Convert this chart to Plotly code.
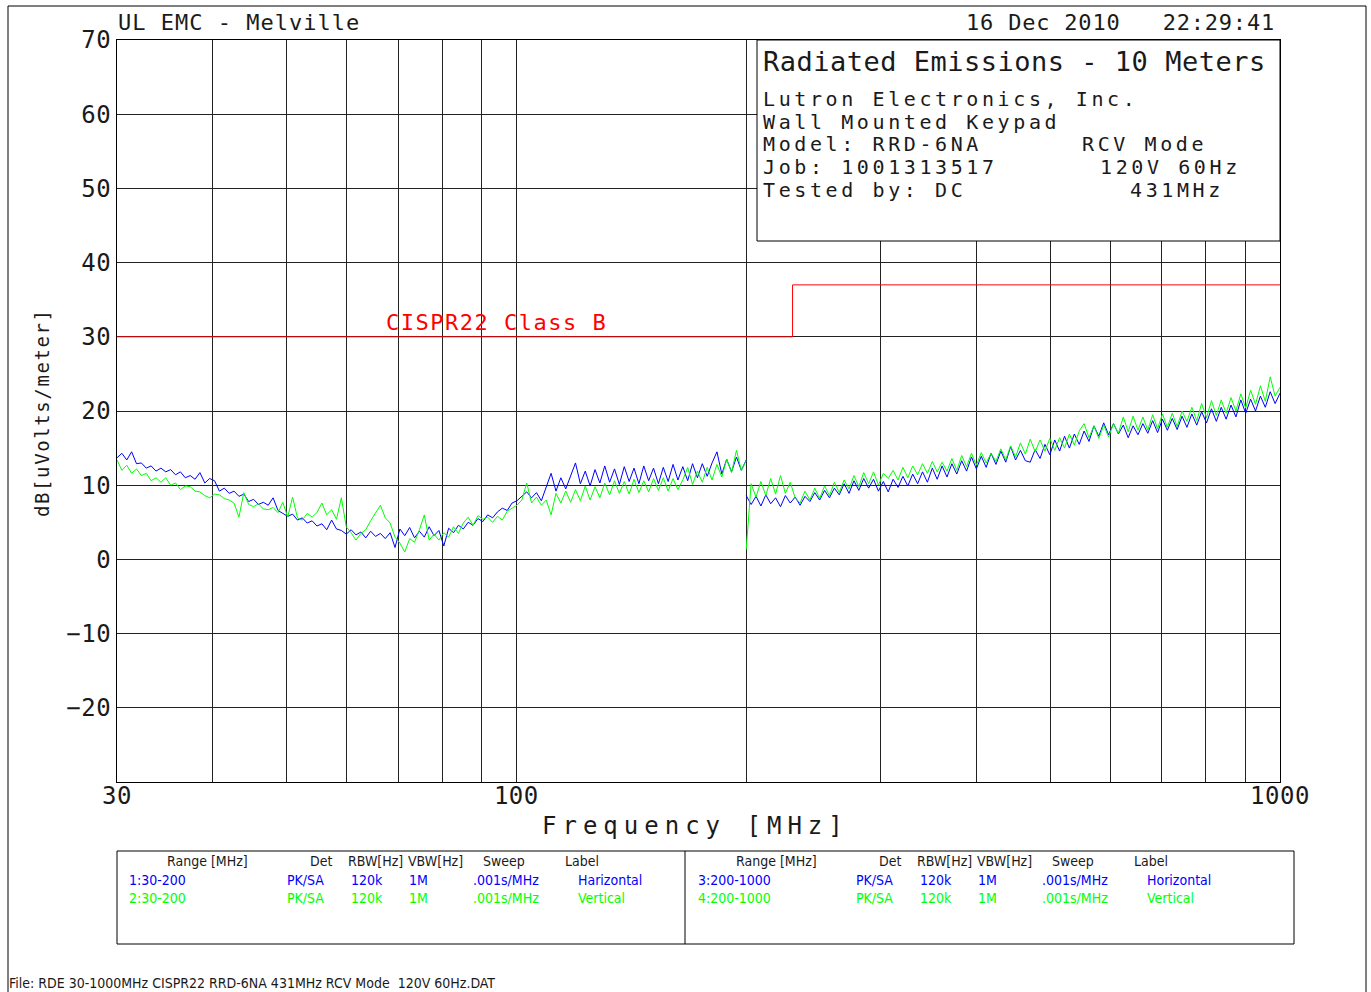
import numpy as np
import plotly.graph_objects as go

# ---------------- data ----------------
seg1_start, seg1_stop = 30, 200      # MHz, sweeps 1 & 2
seg2_start, seg2_stop = 200, 1000    # MHz, sweeps 3 & 4

horiz_30_200 = [
    13.7, 14.3, 13.4, 14.5, 12.9, 13.0, 12.3, 12.6, 11.9, 12.3,
    11.8, 12.1, 11.4, 11.8, 11.0, 11.3, 10.8, 11.7, 10.3, 10.9,
    10.6, 9.2, 9.6, 8.9, 9.2, 8.5, 8.8, 7.8, 8.1, 7.4,
    7.7, 7.3, 8.3, 6.6, 6.2, 5.8, 6.1, 5.3, 5.6, 4.9,
    5.2, 4.5, 4.8, 4.0, 5.3, 4.1, 3.9, 3.4, 4.0, 3.3,
    3.7, 2.9, 3.8, 3.1, 3.5, 2.8, 3.6, 1.6, 4.1, 3.2,
    4.3, 2.9, 3.8, 3.0, 4.4, 3.2, 3.9, 1.8, 4.2, 3.6,
    4.6, 4.1, 5.0, 4.6, 5.5, 5.1, 6.0, 5.6, 6.4, 6.9,
    6.6, 7.6, 7.9, 8.5, 9.1, 8.3, 9.0, 7.9,
    9.8, 11.6, 9.2, 11.0, 9.5, 11.2, 13.0, 10.2, 11.9, 9.9, 12.1, 10.3,
    12.6, 10.4, 12.2, 10.1, 12.5, 10.5, 12.3, 10.2, 12.6, 10.6,
    12.3, 10.2, 12.4, 10.5, 12.8, 10.7, 12.5, 10.6, 12.9, 11.0,
    12.9, 11.2, 13.0, 14.5, 11.5, 13.5, 11.8, 13.8, 12.0, 13.4,
]
vert_30_200 = [
    13.4, 12.0, 12.7, 11.6, 12.2, 11.3, 11.6, 10.6, 11.0, 10.4,
    11.0, 10.0, 10.3, 9.4, 9.9, 9.8, 9.2, 9.1, 8.6, 8.3,
    8.8, 8.7, 8.2, 8.0, 7.6, 5.7, 9.0, 7.4, 7.1, 7.5,
    6.8, 6.7, 7.0, 6.3, 7.7, 5.7, 8.4, 5.6, 5.3, 6.2,
    5.7, 6.3, 7.6, 6.0, 6.7, 5.4, 8.3, 4.4, 3.6, 2.6,
    3.5, 4.0, 5.2, 6.2, 7.3, 5.6, 4.9, 3.0, 2.2, 1.0,
    2.8, 2.3, 4.0, 6.0, 2.6, 3.4, 2.6, 3.6, 3.0, 4.4,
    3.5, 4.9, 5.7, 4.6, 5.9, 5.4, 5.7, 5.0, 5.8, 5.3,
    6.5, 6.9, 7.3, 8.0, 10.3, 7.6, 8.4, 7.3,
    8.0, 6.0, 8.9, 7.6, 9.2, 7.7, 9.4, 7.9, 9.9, 8.0, 9.8, 8.3,
    10.3, 8.7, 10.6, 8.9, 10.5, 8.8, 10.8, 9.0, 10.6, 9.1,
    10.9, 9.3, 11.0, 9.2, 10.9, 9.4, 10.7, 12.4, 10.1, 11.9,
    10.4, 12.4, 10.7, 12.8, 11.1, 13.5, 11.7, 14.7, 12.0, 13.3,
]
horiz_200_1000 = [
    8.6, 7.4, 8.5, 7.2, 8.7, 7.5, 8.3, 7.1, 8.6, 7.6,
    8.4, 7.3, 8.5, 7.8, 9.0, 8.0, 9.3, 8.3, 9.6, 8.7,
    10.2, 8.9, 10.6, 9.3, 10.9, 9.6, 10.8, 9.2, 10.5, 9.1,
    10.8, 9.7, 11.2, 9.9, 11.5, 10.2, 11.8, 10.4, 12.3, 10.8,
    12.6, 11.1, 12.9, 11.5, 13.3, 11.9, 13.8, 12.2, 13.9, 12.4,
    14.3, 12.8, 14.6, 13.1, 15.2, 13.4, 14.7, 13.3, 13.1, 14.8,
    13.6, 15.5, 14.1, 16.1, 14.6, 16.6, 15.0, 16.9, 15.5, 17.3,
    15.9, 18.0, 16.6, 18.4, 16.8, 18.3, 16.9, 18.1, 16.4, 18.0,
    16.8, 18.3, 17.0, 18.7, 17.1, 18.9, 17.4, 19.0, 17.5, 19.3,
    17.8, 19.6, 18.1, 19.9, 18.4, 20.3, 18.6, 20.5, 18.9, 20.8,
    19.2, 21.5, 19.7, 21.6, 20.0, 22.0, 20.5, 22.6, 21.0, 22.4,
]
vert_200_1000 = [
    1.3, 10.2, 8.4, 10.5, 8.6, 10.9, 8.8, 11.3, 8.9, 10.4,
    8.3, 7.6, 9.2, 8.0, 9.6, 8.2, 9.9, 8.6, 10.4, 9.0,
    10.7, 9.5, 11.3, 9.8, 11.7, 10.2, 11.8, 10.0, 11.6, 10.9,
    12.0, 10.7, 12.4, 11.0, 12.6, 11.4, 12.9, 11.6, 13.2, 11.8,
    13.1, 11.9, 13.6, 12.0, 14.0, 12.5, 14.3, 12.7, 14.4, 13.0,
    14.3, 13.2, 14.9, 13.4, 15.3, 13.8, 15.7, 14.2, 16.2, 14.5,
    16.1, 14.6, 16.3, 14.7, 16.4, 15.0, 16.9, 15.4, 17.3, 18.3,
    16.4, 18.0, 16.3, 18.1, 16.5, 18.3, 17.0, 19.2, 17.2, 19.3,
    17.4, 19.2, 17.4, 19.5, 17.6, 19.6, 17.8, 19.7, 17.9, 20.0,
    18.6, 20.5, 18.7, 21.0, 19.1, 21.4, 19.4, 21.5, 19.7, 21.8,
    20.0, 22.3, 20.4, 22.8, 20.9, 23.4, 21.3, 24.6, 22.0, 23.2,
]

limit_freq = [30, 230, 230, 1000]
limit_db = [30, 30, 37, 37]

x_grid = [30, 40, 50, 60, 70, 80, 90, 100, 200, 300, 400, 500, 600, 700, 800, 900, 1000]
x_labels = {30: "30", 100: "100", 1000: "1000"}
y_ticks = [-30, -20, -10, 0, 10, 20, 30, 40, 50, 60, 70]

# ---------------- figure ----------------
W, H = 1371, 992
PL, PR, PT, PB = 117, 1280, 40, 782
MONO = "DejaVu Sans Mono, Liberation Mono, monospace"
NARROW = "Liberation Sans Narrow, DejaVu Sans Condensed, Roboto Condensed, Liberation Sans, sans-serif"
BLUE, GREEN, RED = "#0000ff", "#00ff00", "#ff0000"
INK = "#1a1a1a"


def px(x):
    return (x - PL) / (PR - PL)


def py(y):
    return (PB - y) / (PB - PT)


def spaced(t, sp):
    return f'<span style="letter-spacing:{sp}px">{t}</span>'


fig = go.Figure()
f1 = np.geomspace(seg1_start, seg1_stop, len(horiz_30_200))
f2 = np.geomspace(seg2_start, seg2_stop, len(horiz_200_1000))
for f, v, c in [(f1, horiz_30_200, BLUE), (f2, horiz_200_1000, BLUE),
                (f1, vert_30_200, GREEN), (f2, vert_200_1000, GREEN)]:
    fig.add_trace(go.Scatter(x=f, y=v, mode="lines", line=dict(color=c, width=1),
                             showlegend=False, hoverinfo="skip"))
fig.add_trace(go.Scatter(x=limit_freq, y=limit_db, mode="lines",
                         line=dict(color=RED, width=1), showlegend=False, hoverinfo="skip"))

ann = []


def add(text, x, y, size, color=INK, sp=0, xanchor="left", family=MONO, angle=0):
    ann.append(dict(text=spaced(text, sp) if sp else text, x=px(x), y=py(y), xref="paper", yref="paper",
                    xanchor=xanchor, yanchor="middle", showarrow=False, textangle=angle,
                    font=dict(family=family, size=size, color=color)))


add("UL EMC - Melville", 116, 23, 22, sp=1)
add("16 Dec 2010   22:29:41", 1277, 23, 22, sp=0.8, xanchor="right")
add("Radiated Emissions - 10 Meters", 761, 62, 27, sp=0.5)
add("Lutron Electronics, Inc.", 761, 99, 20, sp=3.6)
add("Wall Mounted Keypad", 761, 122, 20, sp=3.6)
add("Model: RRD-6NA", 761, 144, 20, sp=3.6)
add("Job: 1001313517", 761, 167, 20, sp=3.6)
add("Tested by: DC", 761, 190, 20, sp=3.6)
add("RCV Mode", 1080, 144, 20, sp=3.6)
add("120V 60Hz", 1098, 167, 20, sp=3.6)
add("431MHz", 1128, 190, 20, sp=3.6)
add("CISPR22 Class B", 384, 322, 22, color=RED, sp=1.5)
add("Frequency [MHz]", 695, 826, 24, sp=6, xanchor="center")
add("dB[uVolts/meter]", 42, 413, 19, sp=1.6, xanchor="center", angle=-90)

# table
hdr = [("Range [MHz]", 165), ("Det", 308), ("RBW[Hz]", 346), ("VBW[Hz]", 406), ("Sweep", 481), ("Label", 563)]
rows = [
    (["1:30-200", "PK/SA", "120k", "1M", ".001s/MHz", "Harizontal"], BLUE, 880, 0),
    (["2:30-200", "PK/SA", "120k", "1M", ".001s/MHz", "Vertical"], GREEN, 898, 0),
    (["3:200-1000", "PK/SA", "120k", "1M", ".001s/MHz", "Horizontal"], BLUE, 880, 569),
    (["4:200-1000", "PK/SA", "120k", "1M", ".001s/MHz", "Vertical"], GREEN, 898, 569),
]
row_x = [127, 285, 349, 407, 471, 576]
for off in (0, 569):
    for t, x in hdr:
        add(t, x + off, 861, 14, family=NARROW)
for cells, col, y, off in rows:
    for t, x in zip(cells, row_x):
        add(t, x + off, y, 14, color=col, family=NARROW)
add("File: RDE 30-1000MHz CISPR22 RRD-6NA 431MHz RCV Mode  120V 60Hz.DAT", 7, 983, 14, family=NARROW)

shapes = [
    dict(type="rect", xref="paper", yref="paper", x0=px(757), x1=px(1280), y0=py(241), y1=py(40),
         line=dict(color="black", width=1), fillcolor="white", layer="above"),
    dict(type="rect", xref="paper", yref="paper", x0=px(117), x1=px(1294), y0=py(944), y1=py(851),
         line=dict(color="black", width=1), fillcolor="rgba(0,0,0,0)"),
    dict(type="line", xref="paper", yref="paper", x0=px(685), x1=px(685), y0=py(944), y1=py(851),
         line=dict(color="black", width=1)),
    dict(type="line", xref="paper", yref="paper", x0=px(8), x1=px(1366), y0=py(6), y1=py(6),
         line=dict(color="black", width=1)),
    dict(type="line", xref="paper", yref="paper", x0=px(8), x1=px(8), y0=py(6), y1=py(992),
         line=dict(color="black", width=1)),
    dict(type="line", xref="paper", yref="paper", x0=px(1366), x1=px(1366), y0=py(6), y1=py(992),
         line=dict(color="black", width=1)),
]

fig.update_layout(
    width=W, height=H, margin=dict(l=PL, r=W - PR, t=PT, b=H - PB, pad=0),
    paper_bgcolor="white", plot_bgcolor="white",
    annotations=ann, shapes=shapes,
    xaxis=dict(type="log", range=[np.log10(30), np.log10(1000)], tickvals=x_grid,
               ticktext=[spaced(x_labels.get(v, ""), 0.5) for v in x_grid],
               showgrid=True, gridcolor="#222", gridwidth=1, showline=True, linecolor="black",
               linewidth=1, mirror=True, ticks="", zeroline=False, ticklabelstandoff=-8,
               tickfont=dict(family=MONO, size=24, color=INK)),
    yaxis=dict(range=[-30, 70], tickvals=y_ticks,
               ticktext=["" if v == -30 else spaced(str(v).replace("-", "\u2212"), 0.5) for v in y_ticks],
               showgrid=True, gridcolor="#222", gridwidth=1, showline=True, linecolor="black",
               linewidth=1, mirror=True, ticks="", zeroline=False,
               tickfont=dict(family=MONO, size=24, color=INK)),
)

fig.write_html("out.html", config={"displayModeBar": False},
               post_script="document.body.style.margin='0';")
